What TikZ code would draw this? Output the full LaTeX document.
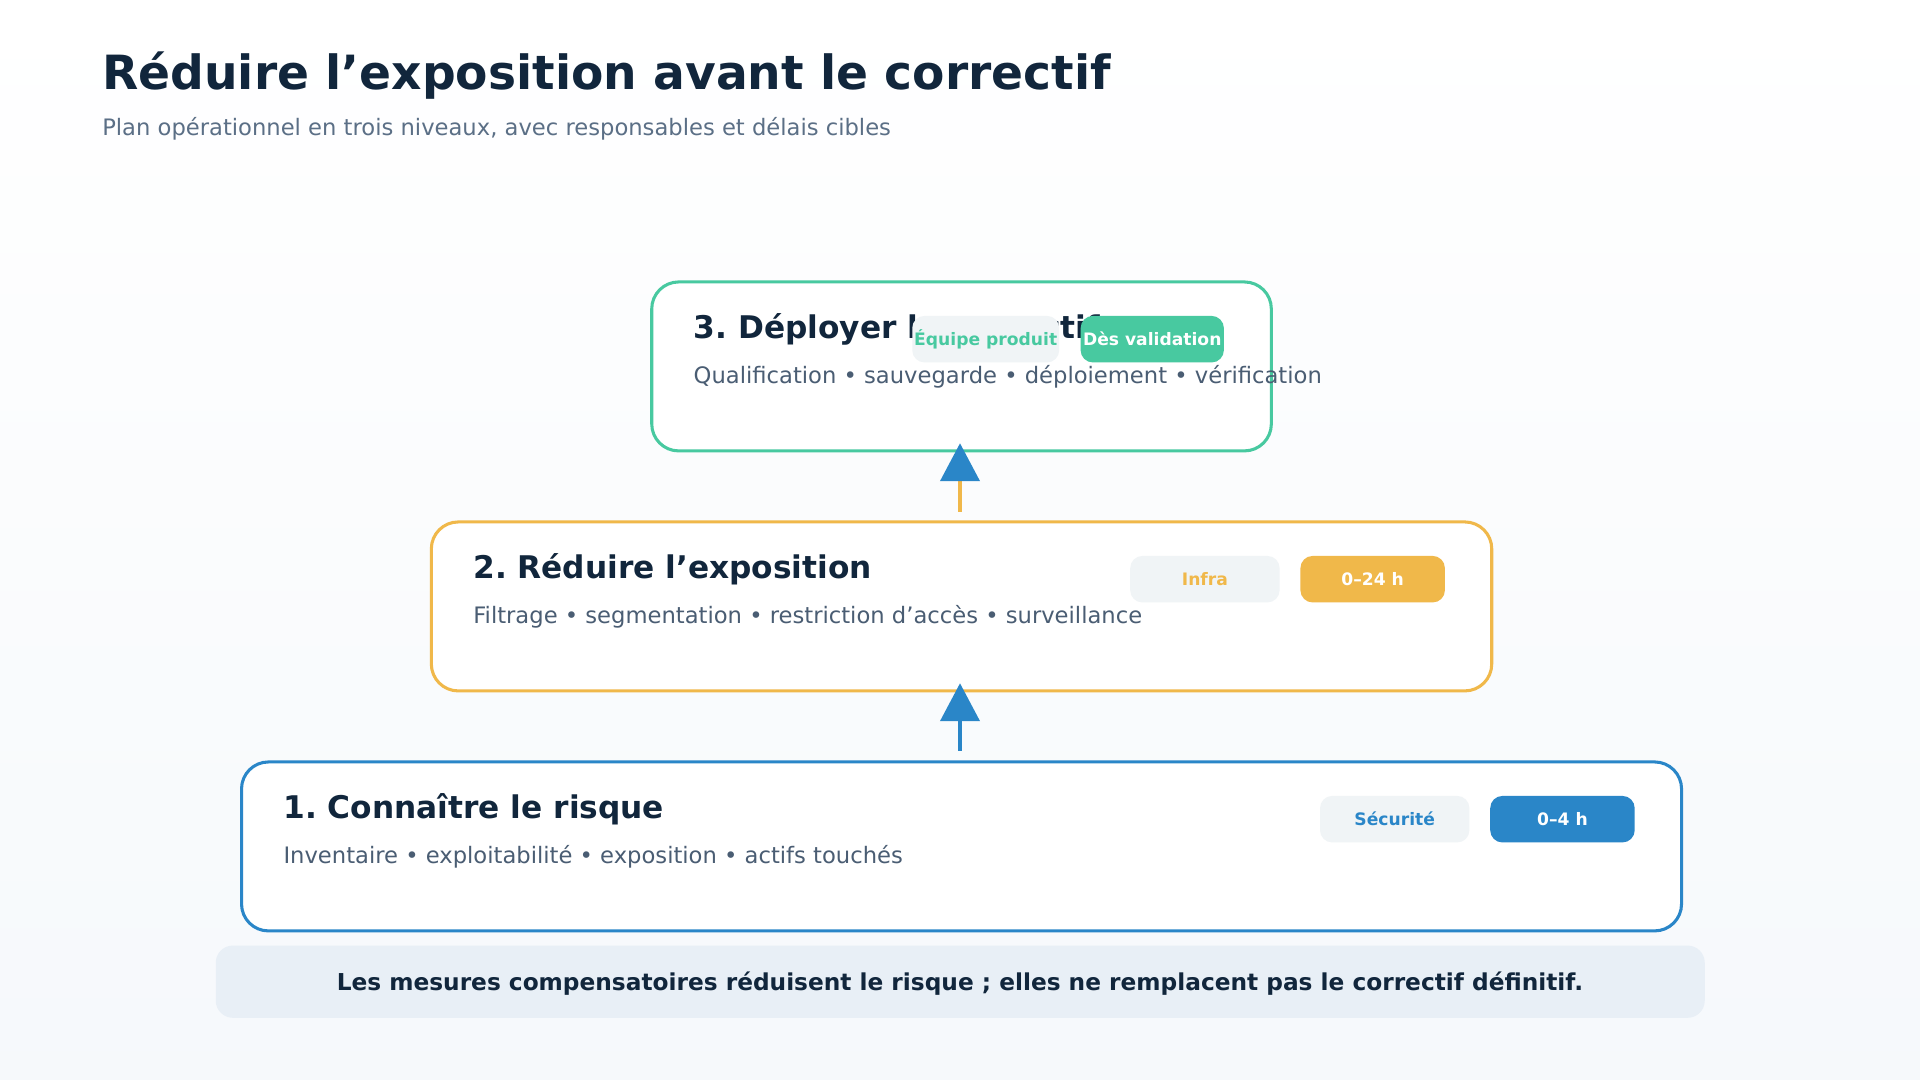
\documentclass[tikz,border=0pt]{standalone}
\usepackage{fontspec}
\setmainfont{DejaVu Sans}
\usetikzlibrary{arrows.meta}
\definecolor{ink}{HTML}{11263C}
\definecolor{sub}{HTML}{5B6F86}
\definecolor{body}{HTML}{4A5D73}
\definecolor{cg}{HTML}{48C9A0}
\definecolor{co}{HTML}{F0B84A}
\definecolor{cb}{HTML}{2A86C8}
\definecolor{pill}{HTML}{F0F4F6}
\definecolor{foot}{HTML}{E8EFF6}
\frenchspacing
\begin{document}
\begin{tikzpicture}[x=1pt,y=-1pt,
 box/.style={draw,line width=2.5pt,fill=white,rounded corners=22pt,anchor=north west,inner sep=0},
 ttl/.style={anchor=west,font=\fontsize{25.5}{30}\selectfont\bfseries,text=ink},
 txt/.style={anchor=west,font=\fontsize{18.5}{22}\selectfont,text=body},
 pl/.style={rounded corners=10pt,minimum height=38pt,inner sep=0,font=\fontsize{14}{16}\selectfont\bfseries},
 arr/.style={line width=3pt,-{Triangle[length=31pt,width=32pt,fill=cb,color=cb]}}]
\shade[top color=white,bottom color=foot!40] (0,0) rectangle (1568,882);
\useasboundingbox (0,0) rectangle (1568,882);
\node[anchor=west,font=\fontsize{38.5}{44}\selectfont\bfseries,text=ink] (t) at (80,62) {Réduire l’exposition avant le correctif};
\node[anchor=west,font=\fontsize{18.5}{22}\selectfont,text=sub] (s) at (80,105) {Plan opérationnel en trois niveaux, avec responsables et délais cibles};
% box 3
\node[box,draw=cg,minimum width=506pt,minimum height=138pt] (b3) at (531,229) {};
\node[ttl] (b3t) at (563,269) {3. Déployer le correctif};
\node[txt] (b3s) at (563,308) {Qualification • sauvegarde • déploiement • vérification};
\node[pl,fill=pill,text=cg,minimum width=120pt] (p3a) at (805,277) {Équipe produit};
\node[pl,fill=cg,text=white,minimum width=117pt] (p3b) at (941,277) {Dès validation};
% box 2
\node[box,draw=co,minimum width=866pt,minimum height=138pt] (b2) at (351,425) {};
\node[ttl] (b2t) at (383,465) {2. Réduire l’exposition};
\node[txt] (b2s) at (383,504) {Filtrage • segmentation • restriction d’accès • surveillance};
\node[pl,fill=pill,text=co,minimum width=122pt] (p2a) at (984,473) {Infra};
\node[pl,fill=co,text=white,minimum width=118pt] (p2b) at (1121,473) {0–24 h};
% box 1
\node[box,draw=cb,minimum width=1176pt,minimum height=138pt] (b1) at (196,621) {};
\node[ttl] (b1t) at (228,661) {1. Connaître le risque};
\node[txt] (b1s) at (228,700) {Inventaire • exploitabilité • exposition • actifs touchés};
\node[pl,fill=pill,text=cb,minimum width=122pt] (p1a) at (1139,669) {Sécurité};
\node[pl,fill=cb,text=white,minimum width=118pt] (p1b) at (1276,669) {0–4 h};
% arrows
\coordinate (a1s) at (784,613); \coordinate (a1e) at (784,558);
\coordinate (a2s) at (784,418); \coordinate (a2e) at (784,362);
\draw[arr,cb] (a1s) -- (a1e);
\draw[arr,co] (a2s) -- (a2e);
% footer
\node[fill=foot,rounded corners=14pt,minimum width=1216pt,minimum height=59pt,anchor=north west,inner sep=0] (f) at (176,772) {};
\node[font=\fontsize{19}{22}\selectfont\bfseries,text=ink] (ft) at (784,803) {Les mesures compensatoires réduisent le risque ; elles ne remplacent pas le correctif définitif.};
\end{tikzpicture}
\end{document}
